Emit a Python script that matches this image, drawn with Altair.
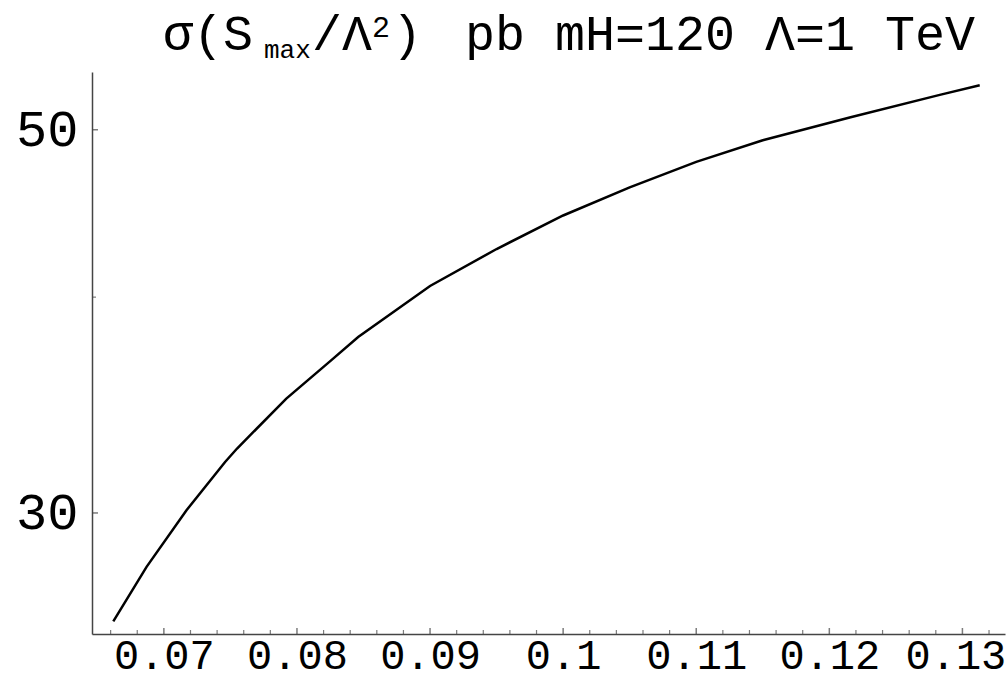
import altair as alt
import pandas as pd

# Cross section sigma(S_max / Lambda^2) in pb versus the coupling, mH = 120, Lambda = 1 TeV
coupling = [0.0662, 0.0687, 0.0717, 0.0746, 0.0755, 0.0792, 0.0825, 0.0846, 0.0900,
            0.0950, 0.1000, 0.1050, 0.1100, 0.1150, 0.1216, 0.1283, 0.1313]
sigma_pb = [25.96, 27.92, 30.11, 32.11, 32.69, 34.94, 36.73, 37.93, 40.60,
            42.65, 44.60, 46.30, 47.90, 49.30, 50.84, 52.38, 53.05]

# Axis ticks
x_major = [0.07, 0.08, 0.09, 0.10, 0.11, 0.12, 0.13]
x_minor = [0.066, 0.068, 0.072, 0.074, 0.076, 0.078, 0.082, 0.084, 0.086, 0.088,
           0.092, 0.094, 0.096, 0.098, 0.102, 0.104, 0.106, 0.108, 0.112, 0.114,
           0.116, 0.118, 0.122, 0.124, 0.126, 0.128, 0.132]
y_major = [30, 50]
y_minor = [40]

# Title pieces: text, left position, baseline, font size
title_text = ["σ(S", "max", "/Λ", "2", ")", "pb mH=120 Λ=1 TeV"]
title_x = [71, 172, 220, 280, 300, 373]
title_y = [-22, -14, -22, -35, -22, -22]
title_size = [50, 26, 50, 30, 50, 50]

W, H = 913, 562
FONT = "Liberation Mono"
AXIS_COLOR = "#444444"

x_scale = alt.Scale(domain=[0.0646, 0.1332], nice=False, zero=False)
y_scale = alt.Scale(type="log", domain=[25.53, 54.0], nice=False, zero=False)

x_axis = alt.Axis(values=x_major, format="~g", ticks=False, grid=False,
                  labelFont=FONT, labelFontSize=42, labelColor="black",
                  labelPadding=1, domainColor=AXIS_COLOR, domainWidth=1.5,
                  labelOffset={"condition": {"test": "datum.value > 0.125", "value": -7},
                               "value": 0},
                  labelFlush=False, labelOverlap=False)
y_axis = alt.Axis(values=y_major, format="d", ticks=False, grid=False,
                  labelFont=FONT, labelFontSize=52, labelColor="black",
                  labelPadding=14, domainColor=AXIS_COLOR, domainWidth=1.5,
                  labelFlush=False, labelOverlap=False)

curve = pd.DataFrame({"x": coupling, "y": sigma_pb})

line = alt.Chart(curve).mark_line(color="black", strokeWidth=2.5).encode(
    x=alt.X("x:Q", scale=x_scale, title=None, axis=x_axis),
    y=alt.Y("y:Q", scale=y_scale, title=None, axis=y_axis),
)

x_major_ticks = alt.Chart(pd.DataFrame({"x": x_major})).mark_tick(
    orient="vertical", color=AXIS_COLOR, thickness=1.5, size=6
).encode(x=alt.X("x:Q", scale=x_scale, title=None, axis=x_axis), y=alt.value(H - 3))

x_minor_ticks = alt.Chart(pd.DataFrame({"x": x_minor})).mark_tick(
    orient="vertical", color=AXIS_COLOR, thickness=1.2, size=4
).encode(x=alt.X("x:Q", scale=x_scale, title=None, axis=x_axis), y=alt.value(H - 2))

y_major_ticks = alt.Chart(pd.DataFrame({"y": y_major})).mark_tick(
    orient="horizontal", color=AXIS_COLOR, thickness=1.5, size=6
).encode(y=alt.Y("y:Q", scale=y_scale, title=None, axis=y_axis), x=alt.value(3))

y_minor_ticks = alt.Chart(pd.DataFrame({"y": y_minor})).mark_tick(
    orient="horizontal", color=AXIS_COLOR, thickness=1.2, size=4
).encode(y=alt.Y("y:Q", scale=y_scale, title=None, axis=y_axis), x=alt.value(2))

# Title drawn piece by piece so the subscript and superscript sit right
title_layers = []
for t, px, py, fs in zip(title_text, title_x, title_y, title_size):
    title_layers.append(
        alt.Chart(pd.DataFrame({"t": [t]})).mark_text(
            font=FONT, align="left", baseline="alphabetic", color="black", fontSize=fs
        ).encode(text="t:N", x=alt.value(px), y=alt.value(py))
    )

chart = alt.layer(
    line, x_major_ticks, x_minor_ticks, y_major_ticks, y_minor_ticks, *title_layers
).properties(
    width=W, height=H,
    padding={"left": 92, "top": 72, "right": 2, "bottom": 47},
    autosize="none",
    background="white",
).configure_view(stroke=None)

chart.save("out.html", embed_options={"renderer": "svg", "actions": False})
